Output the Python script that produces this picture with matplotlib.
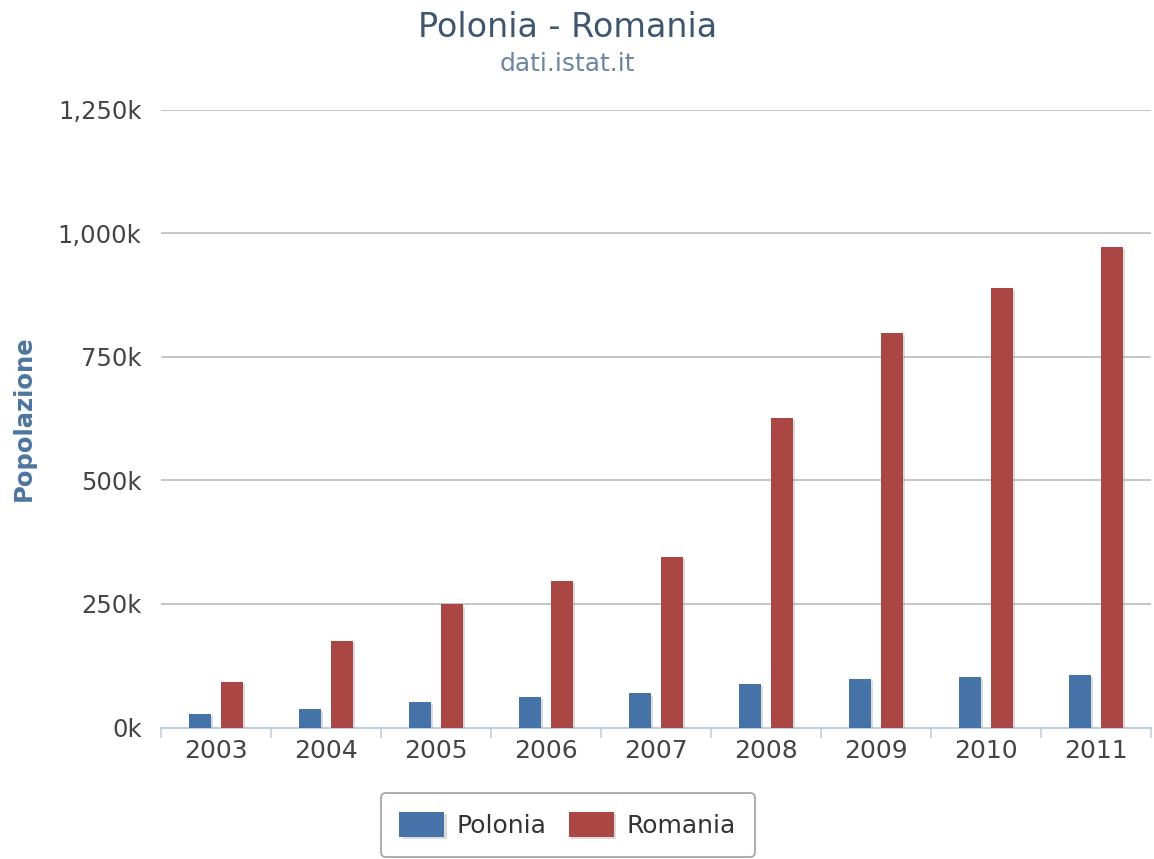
import matplotlib
matplotlib.use("Agg")
import matplotlib.pyplot as plt
import matplotlib.patheffects as pe
from matplotlib.ticker import FuncFormatter, FixedLocator
import numpy as np

# popolazione residente (migliaia di persone)
years = ['2003', '2004', '2005', '2006', '2007', '2008', '2009', '2010', '2011']
polonia = [27, 37, 51, 61, 69, 88, 98, 102, 107]
romania = [93, 176, 249, 297, 345, 626, 798, 889, 972]

c_pol = '#4572A7'
c_rom = '#AA4643'

fig = plt.figure(figsize=(11.54, 8.59), dpi=100)
ax = fig.add_axes([0.1395, 0.153, 0.858, 0.7195])

x = np.arange(len(years))
w = 0.2
shadow = [pe.SimplePatchShadow(offset=(1.5, -1.5), shadow_rgbFace='#999999', alpha=0.35), pe.Normal()]
b1 = ax.bar(x - 0.145, np.array(polonia) * 1000, w, color=c_pol, label='Polonia', zorder=3)
b2 = ax.bar(x + 0.145, np.array(romania) * 1000, w, color=c_rom, label='Romania', zorder=3)
for b in list(b1) + list(b2):
    b.set_path_effects(shadow)

ax.set_xlim(-0.5, len(years) - 0.5)
ax.set_ylim(0, 1250000)
ax.yaxis.set_major_locator(FixedLocator(np.arange(0, 1250001, 250000)))
ax.yaxis.set_major_formatter(FuncFormatter(lambda v, p: '{:,.0f}k'.format(v / 1000)))
ax.grid(axis='y', color='#C0C0C0', lw=1.3, zorder=0)
ax.set_axisbelow(True)

for s in ['top', 'right', 'left']:
    ax.spines[s].set_visible(False)
ax.spines['bottom'].set_color('#C0D0E0')
ax.spines['bottom'].set_linewidth(1.5)

ax.set_xticks(x)
ax.set_xticklabels(years)
ax.set_xticks(np.arange(-0.5, len(years)), minor=True)
ax.tick_params(axis='x', which='major', length=0, pad=8, labelsize=18, labelcolor='#444444')
ax.tick_params(axis='x', which='minor', length=7, color='#C0D0E0', width=1.2)
ax.tick_params(axis='y', length=0, pad=14, labelsize=17.5, labelcolor='#444444')

ax.set_ylabel('Popolazione', fontsize=17.5, fontweight='bold', color='#4D759E', labelpad=16)

fig.text(0.492, 0.968, 'Polonia - Romania', ha='center', va='center', fontsize=24, color='#3E576F')
fig.text(0.492, 0.925, 'dati.istat.it', ha='center', va='center', fontsize=18, color='#6D869F')

leg = fig.legend(handles=[b1, b2], loc='center', bbox_to_anchor=(0.492, 0.04), ncol=2,
                 fontsize=18, frameon=True, fancybox=True, edgecolor='#909090',
                 handlelength=1.8, handleheight=1.2, columnspacing=0.9, handletextpad=0.5,
                 borderpad=0.75, borderaxespad=0)
leg.get_frame().set_linewidth(1.3)
for t in leg.get_texts():
    t.set_color('#333333')

fig.savefig('out.png', dpi=100)
